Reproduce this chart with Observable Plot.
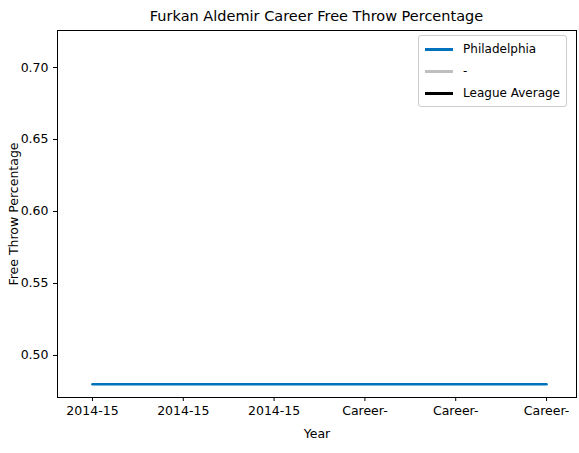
<!DOCTYPE html>
<html><head>
<meta charset="utf-8">
<script src="https://cdn.jsdelivr.net/npm/d3@7"></script>
<script src="https://cdn.jsdelivr.net/npm/@observablehq/plot@0.6"></script>
<style>
body{margin:0;font-family:"DejaVu Sans",sans-serif;background:#fff}
#wrap{position:relative;width:579px;height:453px}
#title{position:absolute;top:8px;left:57px;width:519px;text-align:center;font-size:14.5px}
#legend{position:absolute;top:35px;right:12px;border:1px solid #ccc;border-radius:3px;background:#fff;padding:2px 6px;font-size:12px}
#legend div{display:flex;align-items:center;height:22px}
#legend span{display:inline-block;width:28px;height:3px;margin-right:10px}
</style></head><body>
<div id="wrap"><div id="chart"></div>
<div id="title">Furkan Aldemir Career Free Throw Percentage</div>
<div id="legend"></div></div>
<script>
const seasons = ["2014-15","2014-15","2014-15","Career-","Career-","Career-"];
const phiValues = [0.48,0.48,0.48,0.48,0.48,0.48];
const legendNames = ["Philadelphia","-","League Average"];
const legendColors = ["#0072bd","#bfbfbf","#000"];

const data = seasons.map((s,i)=>({i, s, v: phiValues[i]}));
const chart = Plot.plot({
  width:579, height:453,
  marginLeft:57, marginRight:3, marginTop:30, marginBottom:56,
  style:{fontFamily:"DejaVu Sans", fontSize:"12.5px", color:"#000"},
  x:{domain:[-0.385,5.33], ticks:d3.range(6), tickFormat:i=>seasons[i], label:"Year", labelArrow:"none", labelAnchor:"center", labelOffset:40, tickSize:4},
  y:{domain:[0.4708,0.7257], ticks:[0.5,0.55,0.6,0.65,0.7], tickFormat:d3.format(".2f"), label:"Free Throw Percentage", labelArrow:"none", labelAnchor:"center", labelOffset:48, tickSize:4},
  marks:[
    Plot.frame({stroke:"#000"}),
    Plot.line(data,{x:"i", y:"v", stroke:legendColors[0], strokeWidth:2.5})
  ]
});
document.getElementById("chart").appendChild(chart);
const lg = document.getElementById("legend");
legendNames.forEach((n,k)=>{
  const d=document.createElement("div");
  d.innerHTML=`<span style="background:${legendColors[k]}"></span>${n}`;
  lg.appendChild(d);
});
</script></body></html>
